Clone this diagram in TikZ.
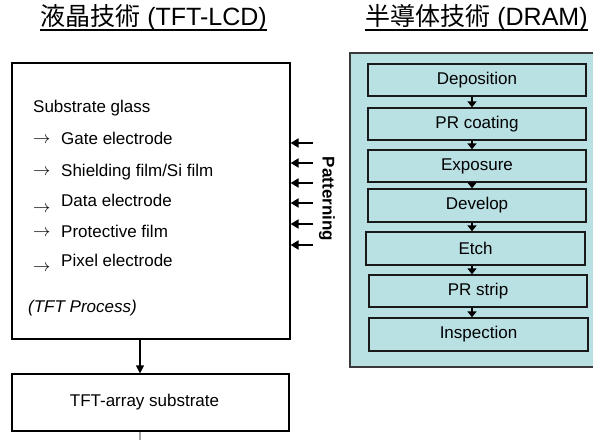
\documentclass[tikz,border=0pt]{standalone}
\usepackage{fontspec}
\setmainfont{Liberation Sans}
\newfontfamily\cjk{Noto Sans CJK JP}
\usetikzlibrary{arrows.meta}
\definecolor{panelfill}{RGB}{185,224,227}
\definecolor{panelline}{RGB}{58,58,58}
\begin{document}
\begin{tikzpicture}[x=1pt,y=-1pt,
  title/.style={inner sep=0pt,anchor=base,font=\fontsize{25}{28}\selectfont},
  txt/.style={inner sep=0pt,anchor=base west,font=\fontsize{17}{20}\selectfont},
  arrowsym/.style={inner sep=0pt,anchor=base west,font=\fontsize{18}{20}\selectfont},
  frame/.style={draw=black,line width=1.2pt,inner sep=0pt},
  panel/.style={draw=panelline,fill=panelfill,line width=1.5pt,inner sep=0pt},
  procbox/.style={draw=black!90,line width=1.3pt,inner sep=0pt,minimum height=32,
    font=\fontsize{17}{20}\selectfont},
  flow/.style={line width=1.3pt,-{Triangle[length=6pt,width=9pt]}},
  main/.style={line width=1.2pt,-{Triangle[length=8pt,width=8pt]}},
  pat/.style={line width=2pt,-{Triangle[length=8pt,width=9pt]}}]
\useasboundingbox (0,0) rectangle (593,439);
\clip (0,0) rectangle (593,439);

% headings
\node[title] (t1) at (153.5,25) {{\cjk 液晶技術} (TFT-LCD)};
\node[title] (t2) at (476.5,25) {{\cjk 半導体技術} (DRAM)};
\draw[line width=1.3pt] ([yshift=-5]t1.base west) -- ([yshift=-5]t1.base east);
\draw[line width=1.3pt] ([yshift=-5]t2.base west) -- ([yshift=-5]t2.base east);

% TFT process box
\node[frame,minimum width=278,minimum height=276] (tft) at (151,201) {};
\node[txt] (sub) at (33,112) {Substrate glass};
\node[arrowsym] (a1) at (33,143.8) {$\rightarrow$};
\node[txt] (l1) at (61,144) {Gate electrode};
\node[arrowsym] (a2) at (33,175.5) {$\rightarrow$};
\node[txt] (l2) at (61,176) {Shielding film/Si film};
\node[arrowsym] (a3) at (33,212) {$\rightarrow$};
\node[txt] (l3) at (61,206) {Data electrode};
\node[arrowsym] (a4) at (33,236.8) {$\rightarrow$};
\node[txt] (l4) at (61,237) {Protective film};
\node[arrowsym] (a5) at (33,271.5) {$\rightarrow$};
\node[txt] (l5) at (61,266.5) {Pixel electrode};
\node[txt,font=\fontsize{17}{20}\selectfont\itshape] (proc) at (28,312) {(TFT Process)};

% patterning inputs
\foreach \i/\y in {1/143,2/163,3/183,4/203,5/224,6/245}{
  \coordinate (pa\i) at (313,\y);
  \draw[pat] (pa\i) -- (pa\i -| tft.east);
}
\node[inner sep=0pt,rotate=-90,font=\fontsize{17}{20}\selectfont\bfseries] (patt) at (327,199) {Patterning};

% TFT-array substrate
\node[frame,minimum width=277,minimum height=57] (array) at (150.5,402.5) {};
\node[inner sep=0pt,font=\fontsize{17}{20}\selectfont] (arraytxt) at (144.5,402.5) {TFT-array substrate};
\coordinate (ax) at (140,0);
\draw[main] (tft.south -| ax) -- (array.north -| ax);
\coordinate (tail) at (140,445);
\draw[gray!70,line width=1.2pt] (array.south -| ax) -- (tail);

% DRAM process panel
\node[panel,minimum width=260,minimum height=314] (dram) at (480,210) {};
\node[procbox,minimum width=218] (dep) at (477,80) {Deposition};
\node[procbox,minimum width=218] (prc) at (477,124) {PR coating};
\node[procbox,minimum width=218] (exp) at (477,166) {Exposure};
\node[procbox,minimum width=218,minimum height=33] (dev) at (477,205.5) {Develop};
\node[procbox,minimum width=219,minimum height=33] (etch) at (475.5,248.5) {Etch};
\node[procbox,minimum width=218] (strip) at (478,291) {PR strip};
\node[procbox,minimum width=219,minimum height=33] (insp) at (478.5,334.5) {Inspection};
\coordinate (fx) at (472,0);
\foreach \a/\b in {dep/prc,prc/exp,exp/dev,dev/etch,etch/strip,strip/insp}{
  \draw[flow] (\a.south -| fx) -- (\b.north -| fx);
}
\end{tikzpicture}
\end{document}
